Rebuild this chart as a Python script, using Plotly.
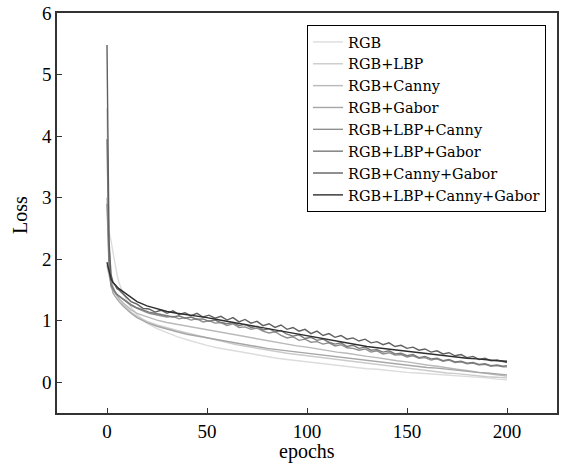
import plotly.graph_objects as go

names = ["RGB", "RGB+LBP", "RGB+Canny", "RGB+Gabor",
         "RGB+LBP+Canny", "RGB+LBP+Gabor", "RGB+Canny+Gabor", "RGB+LBP+Canny+Gabor"]
colors = ["#dcdcdc", "#cbcbcb", "#b9b9b9", "#a6a6a6",
          "#8e8e8e", "#7a7a7a", "#606060", "#2e2e2e"]

# epochs for the smooth curves
ep_smooth = [0, 1, 2, 3, 4, 5, 6, 8, 10, 12, 15] + list(range(20, 201, 5))
# epochs for the noisy curves
ep_noisy = [0, 1, 2, 3, 4, 5] + list(range(6, 199, 3)) + [200]

rgb = [2.5, 2.45, 2.3, 2.1, 1.9, 1.75, 1.62, 1.45, 1.32, 1.22, 1.10,
       0.96, 0.87, 0.80, 0.74, 0.69, 0.64, 0.60, 0.56, 0.53, 0.50, 0.47, 0.44, 0.41,
       0.39, 0.37, 0.35, 0.33, 0.31, 0.29, 0.27, 0.25, 0.24, 0.22, 0.21, 0.19, 0.18,
       0.16, 0.15, 0.14, 0.12, 0.11, 0.10, 0.09, 0.08, 0.07, 0.05, 0.04]
rgb_lbp = [4.45, 2.2, 1.7, 1.55, 1.47, 1.4, 1.35, 1.27, 1.2, 1.14, 1.07,
           0.99, 0.93, 0.88, 0.84, 0.80, 0.76, 0.72, 0.68, 0.65, 0.61, 0.58, 0.55, 0.52,
           0.50, 0.47, 0.45, 0.43, 0.40, 0.38, 0.36, 0.34, 0.32, 0.30, 0.28, 0.26, 0.24,
           0.22, 0.20, 0.19, 0.17, 0.15, 0.14, 0.12, 0.11, 0.09, 0.08, 0.07]
rgb_canny = [3.0, 2.0, 1.65, 1.52, 1.45, 1.4, 1.36, 1.29, 1.23, 1.18, 1.12,
             1.06, 1.01, 0.97, 0.94, 0.91, 0.88, 0.85, 0.82, 0.79, 0.76, 0.73, 0.70, 0.67,
             0.64, 0.62, 0.59, 0.57, 0.54, 0.52, 0.49, 0.47, 0.44, 0.42, 0.40, 0.37, 0.35,
             0.33, 0.30, 0.28, 0.26, 0.23, 0.21, 0.19, 0.16, 0.14, 0.12, 0.10]
rgb_gabor = [1.9, 1.75, 1.55, 1.45, 1.4, 1.35, 1.31, 1.24, 1.18, 1.12, 1.05,
             0.97, 0.91, 0.86, 0.82, 0.78, 0.75, 0.72, 0.69, 0.66, 0.63, 0.60, 0.58, 0.55,
             0.53, 0.51, 0.49, 0.47, 0.45, 0.43, 0.41, 0.39, 0.37, 0.35, 0.33, 0.31, 0.29,
             0.28, 0.26, 0.24, 0.23, 0.21, 0.19, 0.18, 0.16, 0.15, 0.13, 0.12]
rgb_all = [1.95, 1.8, 1.68, 1.62, 1.58, 1.55, 1.52, 1.47, 1.42, 1.37, 1.31,
           1.24, 1.19, 1.15, 1.12, 1.10, 1.07, 1.05, 1.02, 0.99, 0.96, 0.93, 0.90, 0.87,
           0.84, 0.81, 0.78, 0.75, 0.72, 0.69, 0.66, 0.63, 0.61, 0.58, 0.56, 0.54, 0.52,
           0.50, 0.48, 0.46, 0.44, 0.42, 0.41, 0.39, 0.38, 0.36, 0.35, 0.34]

rgb_lbp_canny = [2.9, 1.9, 1.55, 1.5, 1.45, 1.42,
                 1.40, 1.32, 1.25, 1.20, 1.16, 1.12, 1.10, 1.08, 1.06, 1.07, 1.03, 1.05,
                 1.01, 1.03, 0.98, 1.00, 0.96, 0.97, 0.92, 0.95, 0.89, 0.90, 0.86, 0.88,
                 0.83, 0.80, 0.82, 0.76, 0.72, 0.74, 0.68, 0.70, 0.65, 0.66, 0.62, 0.64,
                 0.59, 0.61, 0.56, 0.55, 0.52, 0.54, 0.49, 0.51, 0.46, 0.48, 0.44, 0.45,
                 0.41, 0.43, 0.39, 0.40, 0.36, 0.38, 0.34, 0.36, 0.32, 0.33, 0.30, 0.31,
                 0.28, 0.29, 0.26, 0.27, 0.25, 0.25]
rgb_lbp_gabor = [3.95, 2.0, 1.6, 1.52, 1.47, 1.43,
                 1.40, 1.33, 1.26, 1.21, 1.17, 1.14, 1.12, 1.10, 1.09, 1.06, 1.08, 1.04,
                 1.06, 1.02, 1.03, 0.99, 1.01, 0.97, 0.95, 0.97, 0.92, 0.94, 0.89, 0.91,
                 0.85, 0.87, 0.82, 0.84, 0.78, 0.75, 0.77, 0.71, 0.73, 0.68, 0.70, 0.65,
                 0.62, 0.64, 0.58, 0.60, 0.55, 0.57, 0.52, 0.53, 0.49, 0.51, 0.46, 0.47,
                 0.43, 0.45, 0.40, 0.42, 0.38, 0.39, 0.35, 0.37, 0.33, 0.34, 0.31, 0.32,
                 0.29, 0.30, 0.27, 0.28, 0.26, 0.27]
rgb_canny_gabor = [5.48, 2.3, 1.75, 1.62, 1.58, 1.52,
                   1.50, 1.40, 1.31, 1.27, 1.20, 1.19, 1.14, 1.17, 1.12, 1.16, 1.10, 1.13,
                   1.08, 1.12, 1.06, 1.09, 1.04, 1.07, 1.01, 1.05, 0.98, 1.02, 0.96, 0.99,
                   0.92, 0.95, 0.89, 0.93, 0.86, 0.89, 0.83, 0.86, 0.79, 0.83, 0.76, 0.79,
                   0.73, 0.76, 0.70, 0.72, 0.67, 0.70, 0.64, 0.66, 0.61, 0.64, 0.58, 0.60,
                   0.55, 0.57, 0.52, 0.54, 0.49, 0.51, 0.46, 0.48, 0.43, 0.45, 0.40, 0.42,
                   0.37, 0.39, 0.35, 0.36, 0.33, 0.32]

series = [
    (ep_smooth, rgb), (ep_smooth, rgb_lbp), (ep_smooth, rgb_canny), (ep_smooth, rgb_gabor),
    (ep_noisy, rgb_lbp_canny), (ep_noisy, rgb_lbp_gabor), (ep_noisy, rgb_canny_gabor),
    (ep_smooth, rgb_all),
]

font_family = "Liberation Serif"
fig = go.Figure()
for (xs, ys), name, c in zip(series, names, colors):
    fig.add_trace(go.Scatter(x=xs, y=ys, mode="lines", name=name,
                             line=dict(color=c, width=1.4)))

fig.update_layout(
    width=566, height=464,
    margin=dict(l=57, r=9, t=13, b=51, autoexpand=False),
    paper_bgcolor="white", plot_bgcolor="white",
    font=dict(family=font_family, size=19, color="black"),
    showlegend=True,
    legend=dict(x=0.978, xanchor="right", y=0.97, yanchor="top",
                bordercolor="black", borderwidth=1, bgcolor="white",
                font=dict(family="DejaVu Serif", size=14.5), tracegroupgap=0),
    xaxis=dict(range=[-25, 225], tickvals=[0, 50, 100, 150, 200],
               ticks="inside", ticklen=5, tickcolor="#333",
               showline=True, mirror=True, linecolor="#333", linewidth=1.5,
               showgrid=False, zeroline=False, automargin=False),
    yaxis=dict(range=[-0.5, 6], tickvals=[0, 1, 2, 3, 4, 5, 6],
               ticks="inside", ticklen=5, tickcolor="#333",
               showline=True, mirror=True, linecolor="#333", linewidth=1.5,
               showgrid=False, zeroline=False, automargin=False),
    annotations=[
        dict(text="epochs", xref="paper", yref="paper", x=0.5, y=-0.095,
             xanchor="center", yanchor="middle", showarrow=False,
             font=dict(family=font_family, size=20)),
        dict(text="Loss", xref="paper", yref="paper", x=-0.074, y=0.495,
             xanchor="center", yanchor="middle", showarrow=False, textangle=-90,
             font=dict(family=font_family, size=20)),
    ],
)

fig.write_html("out.html", config={"displayModeBar": False},
               post_script="document.body.style.margin='0';document.body.style.overflow='hidden';")
